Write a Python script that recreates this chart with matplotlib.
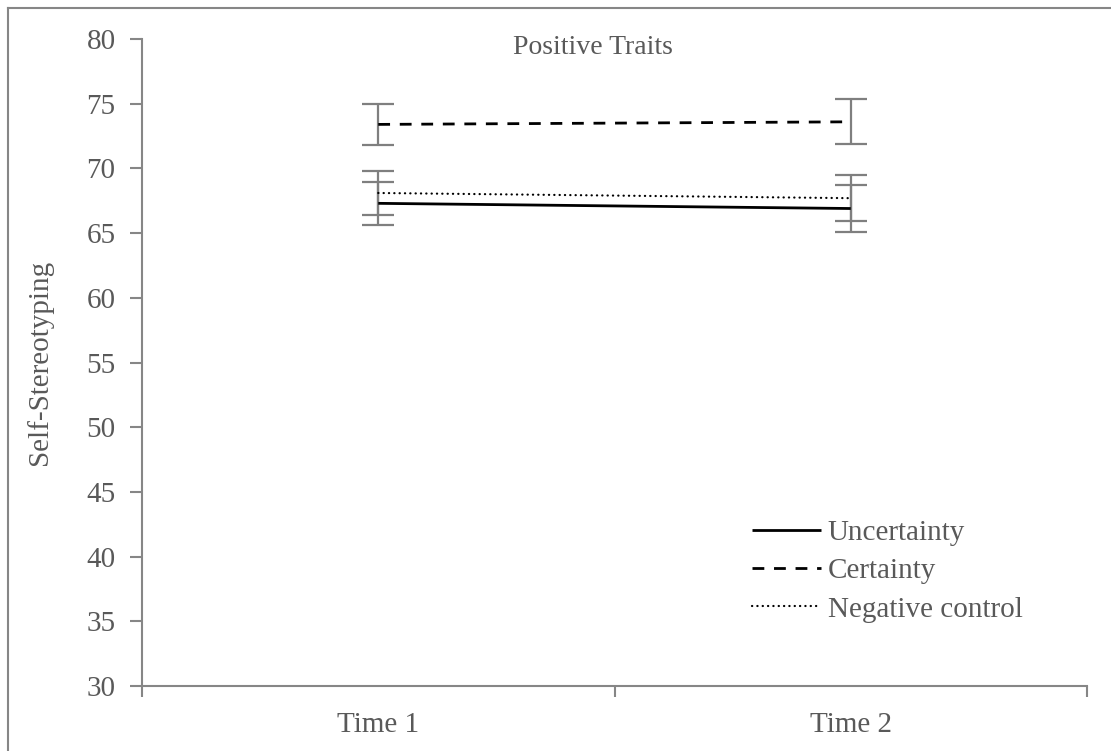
import matplotlib
matplotlib.use('Agg')
import matplotlib.pyplot as plt
from matplotlib.lines import Line2D

plt.rcParams['font.family'] = ['Liberation Serif', 'DejaVu Serif']

# Means and error bars per condition
times = ['Time 1', 'Time 2']
uncertainty = [67.3, 66.9]
uncertainty_err = [1.65, 1.8]
certainty = [73.4, 73.6]
certainty_err = [1.6, 1.75]
neg_control = [68.1, 67.7]
neg_control_err = [1.7, 1.8]

grey_axis = '#868686'
grey_text = '#595959'
fs = 21

W, H = 1111, 751
fig = plt.figure(figsize=(W / 100, H / 100), dpi=100)
ax = fig.add_axes([142 / W, 1 - 686 / H, (1087 - 142) / W, (686 - 39) / H])

xpos = [0.5, 1.5]

# error bars first so the lines sit on top
for vals, errs in [(uncertainty, uncertainty_err), (certainty, certainty_err),
                   (neg_control, neg_control_err)]:
    ax.errorbar(xpos, vals, yerr=errs, fmt='none', ecolor='#7f7f7f',
                elinewidth=1.6, capsize=11.5, capthick=1.6, zorder=2)

ax.plot(xpos, uncertainty, color='black', lw=2.0, solid_capstyle='butt',
        label='Uncertainty', zorder=3)
ax.plot(xpos, certainty, color='black', lw=2.0, linestyle=(0, (4.25, 3.5)),
        dash_capstyle='butt', label='Certainty', zorder=3)
ax.plot(xpos, neg_control, color='black', lw=1.6, linestyle=(0, (0.1, 2.3)),
        dash_capstyle='round', label='Negative control', zorder=3)

ax.set_xlim(0, 2)
ax.set_ylim(30, 80)
ax.set_yticks(range(30, 81, 5))
ax.set_xticks([0, 1, 2])
ax.set_xticklabels([])
ax.set_xticks(xpos, minor=True)
ax.set_xticklabels(times, minor=True)

for side in ['top', 'right']:
    ax.spines[side].set_visible(False)
for side in ['left', 'bottom']:
    ax.spines[side].set_color(grey_axis)
    ax.spines[side].set_linewidth(1.5)

ax.tick_params(axis='y', direction='out', length=9, width=1.5, color=grey_axis,
               labelcolor=grey_text, labelsize=fs, pad=10)
ax.tick_params(axis='x', which='major', direction='out', length=8, width=1.5,
               color=grey_axis)
ax.tick_params(axis='x', which='minor', length=0, labelcolor=grey_text,
               labelsize=fs, pad=19)

ax.set_ylabel('Self-Stereotyping', fontsize=fs, color=grey_text)
ax.yaxis.set_label_coords(-(142 - 53) / (1087 - 142), 0.5)

fig.text(593 / W, 1 - 48 / H, 'Positive Traits', fontsize=fs - 1,
         color=grey_text, ha='center', va='center')

leg = ax.legend(loc='upper left', bbox_to_anchor=(752 / W, 1 - 520 / H),
                bbox_transform=fig.transFigure, frameon=False, fontsize=fs,
                handlelength=2.35, handletextpad=0.25, labelspacing=0.4,
                borderaxespad=0, borderpad=0)
for t in leg.get_texts():
    t.set_color(grey_text)

# chart frame (left and top edges)
fig.add_artist(Line2D([7.5 / W, 7.5 / W], [0, 1 - 7.5 / H], color=grey_axis,
                      lw=1.5, transform=fig.transFigure))
fig.add_artist(Line2D([7.5 / W, 1], [1 - 7.5 / H, 1 - 7.5 / H], color=grey_axis,
                      lw=1.5, transform=fig.transFigure))

fig.savefig('out.png', dpi=100)
